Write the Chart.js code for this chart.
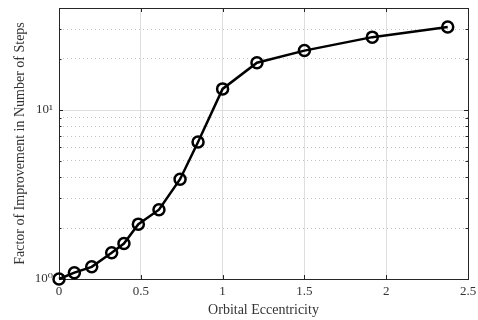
<!DOCTYPE html>
<html>
<head>
<meta charset="utf-8">
<script src="https://cdn.jsdelivr.net/npm/chart.js@4"></script>
<style>
html, body { margin: 0; padding: 0; background: #fff; }
#wrap { width: 478px; height: 320px; }
</style>
</head>
<body>
<div id="wrap"><canvas id="chart"></canvas></div>
<script>
// values
const eccentricity = [0, 0.094, 0.2, 0.322, 0.397, 0.485, 0.611, 0.74, 0.85, 1.0, 1.21, 1.5, 1.915, 2.376];
const improvement = [1.0, 1.09, 1.18, 1.43, 1.62, 2.11, 2.57, 3.89, 6.45, 13.3, 19.0, 22.4, 26.9, 30.9];
const xTicks = [0, 0.5, 1, 1.5, 2, 2.5];
const yTicks = [1, 2, 3, 4, 5, 6, 7, 8, 9, 10, 20, 30, 40];
const yMajor = [1, 10];
const yTickLabels = ['10⁰', '10¹'];

const serif = "'Liberation Serif', 'DejaVu Serif', serif";
const frameColor = '#262626';

// box round the plot, solid major grid at 10, inward ticks on all four sides
const framePlugin = {
    id: 'frame',
    beforeDatasetsDraw(chart) {
        const { ctx, chartArea: a, scales } = chart;
        const x = scales.x, y = scales.y;
        ctx.save();
        ctx.lineWidth = 1;

        ctx.strokeStyle = '#dedede';
        yMajor.forEach(v => {
            const py = Math.round(y.getPixelForValue(v)) + 0.5;
            ctx.beginPath();
            ctx.moveTo(a.left, py);
            ctx.lineTo(a.right, py);
            ctx.stroke();
        });

        ctx.strokeStyle = frameColor;
        xTicks.forEach(v => {
            const px = Math.round(x.getPixelForValue(v)) + 0.5;
            ctx.beginPath();
            ctx.moveTo(px, a.bottom);
            ctx.lineTo(px, a.bottom - 4);
            ctx.moveTo(px, a.top);
            ctx.lineTo(px, a.top + 4);
            ctx.stroke();
        });
        yTicks.forEach(v => {
            const py = Math.round(y.getPixelForValue(v)) + 0.5;
            const len = yMajor.includes(v) ? 4 : 2.5;
            ctx.beginPath();
            ctx.moveTo(a.left, py);
            ctx.lineTo(a.left + len, py);
            ctx.moveTo(a.right, py);
            ctx.lineTo(a.right - len, py);
            ctx.stroke();
        });

        ctx.strokeRect(Math.round(a.left) + 0.5, Math.round(a.top) + 0.5,
            Math.round(a.right - a.left), Math.round(a.bottom - a.top));
        ctx.restore();
    }
};

const ctx = document.getElementById('chart').getContext('2d');

new Chart(ctx, {
    type: 'line',
    data: {
        datasets: [{
            data: eccentricity.map((e, i) => ({ x: e, y: improvement[i] })),
            borderColor: '#000',
            borderWidth: 2.5,
            backgroundColor: 'transparent',
            pointRadius: 5.5,
            pointBorderWidth: 2.5,
            pointBorderColor: '#000',
            pointBackgroundColor: 'transparent',
            tension: 0,
            clip: false
        }]
    },
    options: {
        responsive: true,
        maintainAspectRatio: false,
        animation: false,
        layout: { padding: { left: 0, right: 10, top: 7, bottom: 0 } },
        plugins: {
            legend: { display: false },
            tooltip: { enabled: false }
        },
        scales: {
            x: {
                type: 'linear',
                min: 0,
                max: 2.5,
                afterBuildTicks: scale => { scale.ticks = xTicks.map(v => ({ value: v })); },
                afterFit: scale => {
                    scale.height = 41;
                    scale.paddingLeft = 0;
                    scale.paddingRight = 0;
                },
                grid: { color: '#dedede', lineWidth: 1, drawTicks: false },
                border: { display: false },
                ticks: {
                    color: '#333',
                    padding: 5,
                    maxRotation: 0,
                    font: { family: serif, size: 13 },
                    callback: v => String(v)
                },
                title: {
                    display: true,
                    text: 'Orbital Eccentricity',
                    color: '#333',
                    padding: { top: 0, bottom: 1 },
                    font: { family: serif, size: 14 }
                }
            },
            y: {
                type: 'logarithmic',
                min: 1,
                max: 40,
                afterBuildTicks: scale => { scale.ticks = yTicks.map(v => ({ value: v })); },
                afterFit: scale => {
                    scale.width = 59;
                    scale.paddingTop = 0;
                    scale.paddingBottom = 0;
                },
                grid: {
                    color: c => yMajor.includes(c.tick && c.tick.value) ? 'transparent' : '#c4c4c4',
                    lineWidth: 1,
                    drawTicks: false
                },
                border: { display: false, dash: [1, 3] },
                ticks: {
                    color: '#333',
                    padding: 6,
                    autoSkip: false,
                    font: { family: serif, size: 13 },
                    callback: v => {
                        const i = yMajor.indexOf(v);
                        return i >= 0 ? yTickLabels[i] : '';
                    }
                },
                title: {
                    display: true,
                    text: 'Factor of Improvement in Number of Steps',
                    color: '#333',
                    padding: { top: 12, bottom: 0 },
                    font: { family: serif, size: 14 }
                }
            }
        }
    },
    plugins: [framePlugin]
});
</script>
</body>
</html>
